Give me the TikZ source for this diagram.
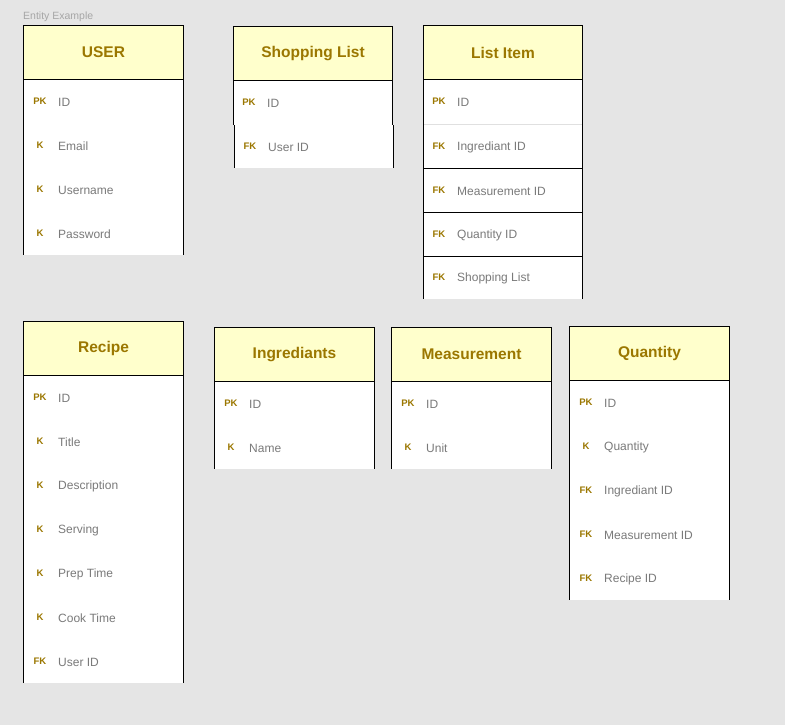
\documentclass[tikz,border=0pt]{standalone}
\usepackage{fontspec}
\setmainfont{Liberation Sans}
\definecolor{bg}{HTML}{E5E5E5}
\definecolor{hdrfill}{HTML}{FFFFCC}
\definecolor{gold}{HTML}{9B7700}
\definecolor{fieldgray}{HTML}{7A7A7A}
\definecolor{capgray}{HTML}{A6A6A6}
\definecolor{sepgray}{HTML}{E0E0E0}
\tikzset{
  hdr/.style={draw=black, line width=1pt, fill=hdrfill, anchor=north west, inner sep=0pt,
    minimum width=160, minimum height=54, text=gold, font=\fontsize{15.5}{18}\selectfont\bfseries},
  body/.style={fill=white},
  side/.style={draw=black, line width=1pt},
  keylbl/.style={text=gold, font=\fontsize{9.5}{11}\selectfont\bfseries, inner sep=0pt, anchor=center, yshift=-0.5pt},
  fld/.style={text=fieldgray, font=\fontsize{12}{14}\selectfont, inner sep=0pt, anchor=west, yshift=-1pt},
  caption/.style={text=capgray, font=\fontsize{10.5}{12}\selectfont, inner sep=0pt, anchor=west}
}
\begin{document}
\begin{tikzpicture}[x=1pt,y=-1pt]
\useasboundingbox (0,0) rectangle (785,725);
\fill[bg] (0,0) rectangle (785,725);
\node[caption] (cap) at (23,17) {Entity Example};

% USER
\fill[body] (23,79) rectangle (183,255);
\draw[side] (23,79) -- (23,255) (183,79) -- (183,255);
\node[hdr] (user) at (23,25) {USER};
\node[keylbl] (user-k1) at (40,101) {PK}; \node[fld] (user-f1) at (58,101) {ID};
\node[keylbl] (user-k2) at (40,145) {K};  \node[fld] (user-f2) at (58,145) {Email};
\node[keylbl] (user-k3) at (40,189) {K};  \node[fld] (user-f3) at (58,189) {Username};
\node[keylbl] (user-k4) at (40,233) {K};  \node[fld] (user-f4) at (58,233) {Password};

% Shopping List
\fill[body] (233,80) rectangle (392,125);
\fill[body] (234,125) rectangle (393,168);
\draw[side] (233,80) -- (233,125) (392,80) -- (392,125);
\draw[side] (234,125) -- (234,168) (393,125) -- (393,168);
\node[hdr, minimum width=159] (shop) at (233,26) {Shopping List};
\node[keylbl] (shop-k1) at (249,102) {PK}; \node[fld] (shop-f1) at (267,102) {ID};
\node[keylbl] (shop-k2) at (250,146) {FK}; \node[fld] (shop-f2) at (268,146) {User ID};

% List Item
\fill[body] (423,79) rectangle (582,299);
\draw[sepgray, line width=1pt] (423,124) -- (582,124);
\draw[side] (423,168) -- (582,168) (423,212) -- (582,212) (423,256) -- (582,256);
\draw[side] (423,79) -- (423,299) (582,79) -- (582,299);
\node[hdr, minimum width=159] (item) at (423,25) {List Item};
\node[keylbl] (item-k1) at (439,101) {PK}; \node[fld] (item-f1) at (457,101) {ID};
\node[keylbl] (item-k2) at (439,146) {FK}; \node[fld] (item-f2) at (457,146) {Ingrediant ID};
\node[keylbl] (item-k3) at (439,190) {FK}; \node[fld] (item-f3) at (457,190) {Measurement ID};
\node[keylbl] (item-k4) at (439,234) {FK}; \node[fld] (item-f4) at (457,234) {Quantity ID};
\node[keylbl] (item-k5) at (439,277) {FK}; \node[fld] (item-f5) at (457,277) {Shopping List};

% Recipe
\fill[body] (23,375) rectangle (183,683);
\draw[side] (23,375) -- (23,683) (183,375) -- (183,683);
\node[hdr] (recipe) at (23,321) {Recipe};
\node[keylbl] (recipe-k1) at (40,397) {PK}; \node[fld] (recipe-f1) at (58,397) {ID};
\node[keylbl] (recipe-k2) at (40,441) {K};  \node[fld] (recipe-f2) at (58,441) {Title};
\node[keylbl] (recipe-k3) at (40,485) {K};  \node[fld] (recipe-f3) at (58,485) {Description};
\node[keylbl] (recipe-k4) at (40,529) {K};  \node[fld] (recipe-f4) at (58,529) {Serving};
\node[keylbl] (recipe-k5) at (40,573) {K};  \node[fld] (recipe-f5) at (58,573) {Prep Time};
\node[keylbl] (recipe-k6) at (40,617) {K};  \node[fld] (recipe-f6) at (58,617) {Cook Time};
\node[keylbl] (recipe-k7) at (40,661) {FK}; \node[fld] (recipe-f7) at (58,661) {User ID};

% Ingrediants
\fill[body] (214,381) rectangle (374,469);
\draw[side] (214,381) -- (214,469) (374,381) -- (374,469);
\node[hdr] (ingr) at (214,327) {Ingrediants};
\node[keylbl] (ingr-k1) at (231,403) {PK}; \node[fld] (ingr-f1) at (249,403) {ID};
\node[keylbl] (ingr-k2) at (231,447) {K};  \node[fld] (ingr-f2) at (249,447) {Name};

% Measurement
\fill[body] (391,381) rectangle (551,469);
\draw[side] (391,381) -- (391,469) (551,381) -- (551,469);
\node[hdr] (meas) at (391,327) {Measurement};
\node[keylbl] (meas-k1) at (408,403) {PK}; \node[fld] (meas-f1) at (426,403) {ID};
\node[keylbl] (meas-k2) at (408,447) {K};  \node[fld] (meas-f2) at (426,447) {Unit};

% Quantity
\fill[body] (569,380) rectangle (729,600);
\draw[side] (569,380) -- (569,600) (729,380) -- (729,600);
\node[hdr] (qty) at (569,326) {Quantity};
\node[keylbl] (qty-k1) at (586,402) {PK}; \node[fld] (qty-f1) at (604,402) {ID};
\node[keylbl] (qty-k2) at (586,446) {K};  \node[fld] (qty-f2) at (604,446) {Quantity};
\node[keylbl] (qty-k3) at (586,490) {FK}; \node[fld] (qty-f3) at (604,490) {Ingrediant ID};
\node[keylbl] (qty-k4) at (586,534) {FK}; \node[fld] (qty-f4) at (604,534) {Measurement ID};
\node[keylbl] (qty-k5) at (586,578) {FK}; \node[fld] (qty-f5) at (604,578) {Recipe ID};
\end{tikzpicture}
\end{document}
